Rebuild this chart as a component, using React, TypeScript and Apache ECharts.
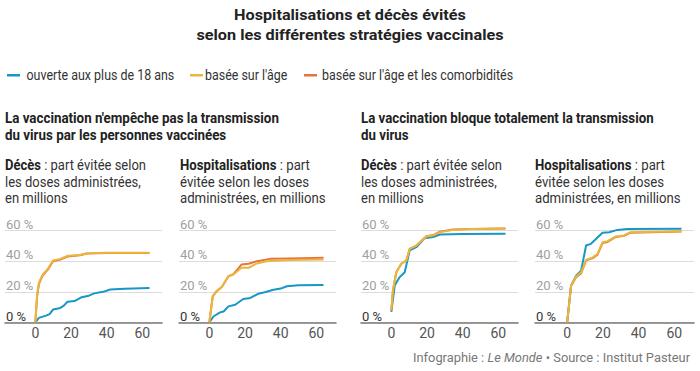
import React, { useEffect, useRef } from "react";
import * as echarts from "echarts";

// ---- Data (x: doses administered in millions, y: share avoided in %) ----
const xTicks = [0, 20, 40, 60];
const yTicks = [0, 20, 40, 60];

const seriesNames = [
  "ouverte aux plus de 18 ans",
  "basée sur l'âge",
  "basée sur l'âge et les comorbidités",
];

// Panel 1: transmission not blocked — deaths
const p1Blue = [[0, 0], [2, 3], [6, 4.5], [8, 5.5], [10, 8.5], [14, 9.5], [16, 11], [18, 13.5], [22, 14], [26, 16.5], [30, 17.5], [33, 19], [38, 20], [42, 21.5], [50, 22], [64, 22.5]];
const p1Yellow = [[0, 0], [1, 18], [2, 26], [4, 31], [7, 35], [10, 40.5], [14, 41.5], [18, 43.5], [25, 44], [29, 45.2], [40, 45.5], [64, 45.5]];
const p1Orange = [[0, 0], [1, 17], [2, 25], [4, 30.5], [7, 34.5], [10, 40], [14, 41], [18, 43], [25, 43.8], [29, 45], [40, 45.3], [64, 45.3]];

// Panel 2: transmission not blocked — hospitalisations
const p2Blue = [[0, 0], [2.3, 3.9], [6, 6.6], [8, 7.2], [10.7, 10.5], [14.5, 11.6], [19, 15.3], [23, 16], [27.5, 18.8], [31, 19.7], [36, 21.4], [40, 22.1], [43.5, 23.6], [50, 24.3], [64, 24.5]];
const p2Yellow = [[0, 0], [1.9, 17], [4, 20.3], [7, 23.2], [10.7, 30.2], [13.5, 31.3], [18, 35.7], [22, 35.7], [26.7, 38.5], [32, 40], [45, 40.8], [64, 41.1]];
const p2Orange = [[0, 0], [1.9, 17], [4, 20.3], [7, 23.2], [10.7, 30.2], [13.5, 31.5], [18, 37.8], [22, 38.3], [26.7, 40], [34, 41.5], [45, 41.8], [64, 42.2]];

// Panel 3: transmission fully blocked — deaths
const p3Blue = [[0, 7], [1.9, 24.1], [4.7, 29.6], [7.5, 32.8], [10.3, 47], [14, 49.1], [18.7, 55], [23.4, 55.7], [27.2, 57.4], [40, 57.7], [64, 57.8]];
const p3Yellow = [[0, 7.8], [0.9, 20.9], [2.8, 32.8], [5.6, 38.3], [8.4, 40.4], [10.3, 48], [14, 50.2], [19.7, 56.1], [23.4, 56.8], [27.2, 58.9], [34.6, 60.4], [45, 61], [64, 61.3]];
const p3Orange = [[0, 7.8], [0.9, 20.9], [2.8, 32.8], [5.6, 38.3], [8.4, 40.4], [10.3, 48], [14, 50.2], [19.7, 56.3], [23.4, 57], [27.2, 59.2], [34.6, 60.6], [45, 61], [64, 61.3]];

// Panel 4: transmission fully blocked — hospitalisations
const p4Blue = [[0, 0], [2.2, 24], [5, 30.5], [7.8, 33.8], [10.6, 50.2], [13.3, 51.3], [19.8, 58.5], [23.5, 58.9], [28.1, 60.4], [33.7, 61], [64, 61.2]];
const p4Yellow = [[0, 0], [2.2, 24], [5, 30], [7.8, 32.7], [10.6, 40.8], [14.3, 42.5], [17, 44.7], [19.8, 52.4], [22.6, 53], [27.2, 56.1], [31.8, 56.8], [35.5, 58.9], [64, 59.5]];
const p4Orange = [[0, 0], [2.2, 24], [5, 29.5], [7.8, 32], [10.6, 40.5], [14.3, 42], [17, 44.3], [19.8, 51.8], [22.6, 52.5], [27.2, 55.8], [31.8, 56.5], [35.5, 58.6], [64, 59.3]];

const panels = [
  { blue: p1Blue, yellow: p1Yellow, orange: p1Orange, left: 5, width: 157, min: -17, max: 71 },
  { blue: p2Blue, yellow: p2Yellow, orange: p2Orange, left: 179, width: 157, min: -17, max: 71 },
  { blue: p3Blue, yellow: p3Yellow, orange: p3Orange, left: 361, width: 157, min: -17, max: 71 },
  { blue: p4Blue, yellow: p4Yellow, orange: p4Orange, left: 535, width: 159, min: -18, max: 71 },
];

const BLUE = "#1797c6";
const YELLOW = "#e9b73c";
const ORANGE = "#e8733a";
const FONT = "Roboto, 'Liberation Sans', sans-serif";
const SANS = "Roboto, 'Liberation Sans', Arial, sans-serif";

let measureCtx: CanvasRenderingContext2D | null = null;
function measure(text: string, size: number, weight = "normal", style = "normal") {
  if (!measureCtx) measureCtx = document.createElement("canvas").getContext("2d");
  if (!measureCtx) return text.length * size * 0.5;
  measureCtx.font = `${style} ${weight} ${size}px ${FONT}`;
  return measureCtx.measureText(text).width;
}

export default function App() {
  const ref = useRef<HTMLDivElement>(null);
  useEffect(() => {
    if (!ref.current) return;
    const chart = echarts.init(ref.current, undefined, { renderer: "svg" });

    const grid: any[] = [];
    const xAxis: any[] = [];
    const yAxis: any[] = [];
    const series: any[] = [];
    panels.forEach((p, i) => {
      grid.push({ left: p.left, width: p.width, top: 230.5, height: 92, containLabel: false });
      xAxis.push({
        type: "value",
        gridIndex: i,
        min: p.min,
        max: p.max,
        splitLine: { show: false },
        axisTick: { show: false },
        axisLine: { show: true, onZero: false, lineStyle: { color: "#7a7a7a", width: 1.6 } },
        axisLabel: {
          customValues: xTicks,
          color: "#555",
          fontSize: 14,
          fontFamily: SANS,
          margin: 3,
        },
      });
      yAxis.push({
        type: "value",
        gridIndex: i,
        min: 0,
        max: 60,
        interval: 20,
        axisLine: { show: false },
        axisTick: { show: false },
        splitLine: { show: true, lineStyle: { color: "#dcdcdc", width: 1 } },
        axisLabel: {
          customValues: yTicks,
          inside: true,
          margin: 1,
          align: "left",
          verticalAlign: "bottom",
          fontFamily: SANS,
          fontSize: 13,
          formatter: (v: number) => (v === 0 ? "{d|0 %}" : "{g|" + v + " %}"),
          rich: {
            d: { color: "#333", fontSize: 13, fontFamily: SANS },
            g: { color: "#a0a0a0", fontSize: 13, fontFamily: SANS },
          },
        },
      });
      const mk = (name: string, data: number[][], color: string) => ({
        type: "line",
        name,
        xAxisIndex: i,
        yAxisIndex: i,
        data,
        showSymbol: false,
        symbol: "none",
        clip: false,
        lineStyle: { color, width: 2 },
        itemStyle: { color },
        z: 3,
      });
      series.push(mk(seriesNames[0], p.blue, BLUE));
      series.push(mk(seriesNames[2], p.orange, ORANGE));
      series.push(mk(seriesNames[1], p.yellow, YELLOW));
    });

    type Opts = { size: number; weight?: string; fill?: string; align?: string };
    const textEl = (x: number, y: number, text: string, scale: number, opts: Opts) => ({
      type: "text", x, y, silent: true, scaleX: scale,
      style: {
        text, fill: opts.fill || "#222", fontFamily: FONT, fontSize: opts.size,
        fontWeight: opts.weight || "normal", align: opts.align || "left", verticalAlign: "middle",
      },
    });
    const scaleFor = (text: string, target: number, opts: Opts) =>
      target / measure(text, opts.size, opts.weight || "normal");
    // block of lines sharing one horizontal scale (from the line given as reference)
    const block = (x: number, y0: number, lh: number, lines: string[], refIdx: number, target: number, opts: Opts) => {
      const s = scaleFor(lines[refIdx], target, opts);
      return lines.map((l, k) => textEl(x, y0 + k * lh, l, s, opts));
    };
    // sub-header block, first line starts with a bold word
    const subBlock = (x: number, bold: string, rest: string, lines: string[], target: number) => {
      const size = 14.5;
      const w = measure(bold, size, "bold") + measure(rest, size, "normal");
      const s = target / w;
      const first = {
        type: "text", x, y: 165, silent: true, scaleX: s,
        style: {
          text: "{b|" + bold + "}" + rest, fill: "#333", fontFamily: FONT, fontSize: size,
          verticalAlign: "middle",
          rich: { b: { fontWeight: "bold", fontFamily: FONT, fontSize: size, fill: "#222" } },
        },
      };
      return [first, ...lines.map((l, k) => textEl(x, 181.5 + k * 16.5, l, s, { size, fill: "#333" }))];
    };

    const graphic: any[] = [
      ...block(350, 15, 20, ["Hospitalisations et décès évités", "selon les différentes stratégies vaccinales"], 1, 307, { size: 15.5, weight: "bold", align: "center" }),
      ...block(5, 118, 16.5, ["La vaccination n'empêche pas la transmission", "du virus par les personnes vaccinées"], 0, 274, { size: 14, weight: "bold" }),
      ...block(361, 118, 16.5, ["La vaccination bloque totalement la transmission", "du virus"], 0, 293, { size: 14, weight: "bold" }),
      ...subBlock(5, "Décès", " : part évitée selon", ["les doses administrées,", "en millions"], 141),
      ...subBlock(180, "Hospitalisations", " : part", ["évitée selon les doses", "administrées, en millions"], 130),
      ...subBlock(361, "Décès", " : part évitée selon", ["les doses administrées,", "en millions"], 141),
      ...subBlock(535, "Hospitalisations", " : part", ["évitée selon les doses", "administrées, en millions"], 130),
    ];

    // legend (drawn by hand to match the condensed type)
    const legOpts: Opts = { size: 14, fill: "#333" };
    const legScale = scaleFor(seriesNames[0], 148, legOpts);
    const legend = [
      { color: BLUE, dash: 7, text: 26.5 },
      { color: YELLOW, dash: 190, text: 205 },
      { color: ORANGE, dash: 304, text: 322 },
    ];
    legend.forEach((l, k) => {
      graphic.push({ type: "rect", silent: true, shape: { x: l.dash, y: 74, width: 13, height: 2.5 }, style: { fill: l.color } });
      graphic.push(textEl(l.text, 75, seriesNames[k], legScale, legOpts));
    });

    // footer: "Infographie : Le Monde • Source : Institut Pasteur"
    const f1 = "Infographie : ", f2 = "Le Monde", f3 = " • Source : Institut Pasteur";
    const FS = 13.5;
    const fw = measure(f1, FS) + measure(f2, FS, "normal", "italic") + measure(f3, FS);
    graphic.push({
      type: "text", x: 690, y: 357, silent: true,
      scaleX: 277 / fw,
      style: {
        text: f1 + "{i|" + f2 + "}" + f3, fill: "#777", fontFamily: FONT, fontSize: FS,
        align: "right", verticalAlign: "middle",
        rich: { i: { fontStyle: "italic", fontFamily: FONT, fontSize: FS, fill: "#777" } },
      },
    });

    chart.setOption({
      animation: false,
      backgroundColor: "#ffffff",
      grid,
      xAxis,
      yAxis,
      series,
      graphic,
    });
    return () => chart.dispose();
  }, []);
  return <div ref={ref} style={{ position: "fixed", left: 0, top: 0, width: 700, height: 371 }} />;
}
